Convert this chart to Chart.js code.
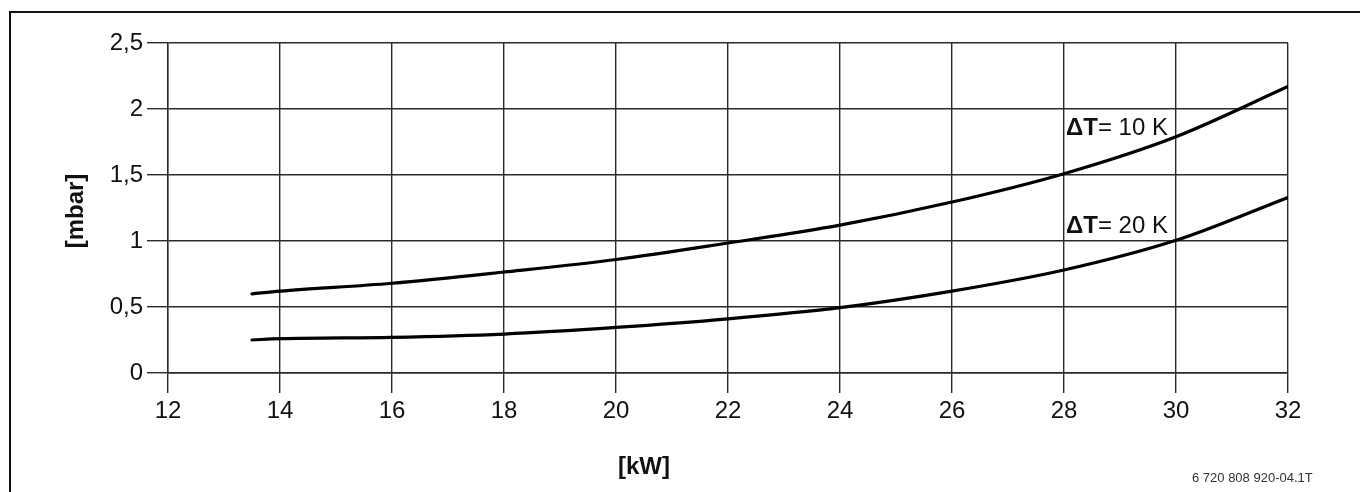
<!DOCTYPE html>
<html>
<head>
<meta charset="utf-8">
<script src="https://cdn.jsdelivr.net/npm/chart.js@4.4.1/dist/chart.umd.min.js"></script>
<style>
  html, body { margin: 0; padding: 0; background: #fff; }
  #wrap { width: 1360px; height: 492px; position: relative; }
</style>
</head>
<body>
<div id="wrap"><canvas id="c" width="1360" height="492"></canvas></div>
<script>
// ---- data ----
const kW = [13.5, 14, 16, 18, 20, 22, 24, 26, 28, 30, 32];
const dT10 = [0.6, 0.62, 0.68, 0.765, 0.86, 0.985, 1.12, 1.295, 1.51, 1.79, 2.17];
const dT20 = [0.25, 0.26, 0.27, 0.295, 0.345, 0.41, 0.495, 0.62, 0.78, 1.005, 1.33];
const seriesLabels = ['= 10 K', '= 20 K'];
const xTickValues = [12, 14, 16, 18, 20, 22, 24, 26, 28, 30, 32];
const yTickValues = [0, 0.5, 1, 1.5, 2, 2.5];
const yTickLabels = ['0', '0,5', '1', '1,5', '2', '2,5'];
const xTitle = '[kW]';
const yTitle = '[mbar]';
const docNumber = '6 720 808 920-04.1T';

const FONT = '"Liberation Sans", Arial, Helvetica, sans-serif';

function toPoints(xs, ys) { return xs.map((x, i) => ({ x: x, y: ys[i] })); }

const decor = {
  id: 'decor',
  afterDraw(chart) {
    const ctx = chart.ctx;
    const xs = chart.scales.x;
    ctx.save();
    // outer frame (top and left edges)
    ctx.strokeStyle = '#111';
    ctx.lineWidth = 2;
    ctx.beginPath();
    ctx.moveTo(10, 492);
    ctx.lineTo(10, 12);
    ctx.lineTo(1360, 12);
    ctx.stroke();

    ctx.fillStyle = '#111';
    // y title
    ctx.save();
    ctx.translate(76, 211);
    ctx.rotate(-Math.PI / 2);
    ctx.font = 'bold 24px ' + FONT;
    ctx.textAlign = 'center';
    ctx.textBaseline = 'middle';
    ctx.fillText(yTitle, 0, 0);
    ctx.restore();

    // x title
    ctx.font = 'bold 24px ' + FONT;
    ctx.textAlign = 'center';
    ctx.textBaseline = 'middle';
    ctx.fillText(xTitle, 644, 467);

    // curve labels
    const lab = [[seriesLabels[0], 135], [seriesLabels[1], 233]];
    lab.forEach(([txt, base]) => {
      const x0 = xs.getPixelForValue(28) + 2;
      ctx.textAlign = 'left';
      ctx.textBaseline = 'alphabetic';
      ctx.font = 'bold 24px ' + FONT;
      ctx.fillText('\u0394T', x0, base);
      const w = ctx.measureText('\u0394T').width;
      ctx.font = '24px ' + FONT;
      ctx.fillText(txt, x0 + w, base);
    });

    // document number
    ctx.font = '13px ' + FONT;
    ctx.textAlign = 'left';
    ctx.textBaseline = 'alphabetic';
    ctx.fillStyle = '#333';
    ctx.fillText(docNumber, 1192, 482);
    ctx.restore();
  }
};

new Chart(document.getElementById('c'), {
  type: 'line',
  data: {
    datasets: [
      { label: '\u0394T' + seriesLabels[0], data: toPoints(kW, dT10) },
      { label: '\u0394T' + seriesLabels[1], data: toPoints(kW, dT20) }
    ].map(d => Object.assign(d, {
      borderColor: '#000',
      borderWidth: 3.2,
      pointRadius: 0,
      fill: false,
      cubicInterpolationMode: 'monotone',
      borderCapStyle: 'round'
    }))
  },
  options: {
    responsive: false,
    animation: false,
    devicePixelRatio: 1,
    layout: { padding: { left: 0, top: 43, right: 72, bottom: 0 } },
    plugins: { legend: { display: false }, tooltip: { enabled: false }, title: { display: false } },
    scales: {
      x: {
        type: 'linear',
        min: 12, max: 32,
        afterBuildTicks: s => { s.ticks = xTickValues.map(v => ({ value: v })); },
        afterFit: s => { s.height = 119; },
        grid: { color: '#2a2a2a', lineWidth: 1.4, tickLength: 20, tickColor: '#2a2a2a' },
        border: { color: '#2a2a2a', width: 1.4 },
        ticks: { color: '#111', font: { family: FONT, size: 24 }, padding: 4, maxRotation: 0 }
      },
      y: {
        type: 'linear',
        min: 0, max: 2.5,
        afterBuildTicks: s => { s.ticks = yTickValues.map(v => ({ value: v })); },
        afterFit: s => { s.width = 168; },
        grid: { color: '#2a2a2a', lineWidth: 1.4, tickLength: 21, tickColor: '#2a2a2a' },
        border: { color: '#2a2a2a', width: 1.4 },
        ticks: {
          color: '#111', font: { family: FONT, size: 24 }, padding: 4,
          callback: (v) => { const i = yTickValues.indexOf(v); return i >= 0 ? yTickLabels[i] : ''; }
        }
      }
    }
  },
  plugins: [decor]
});
</script>
</body>
</html>
